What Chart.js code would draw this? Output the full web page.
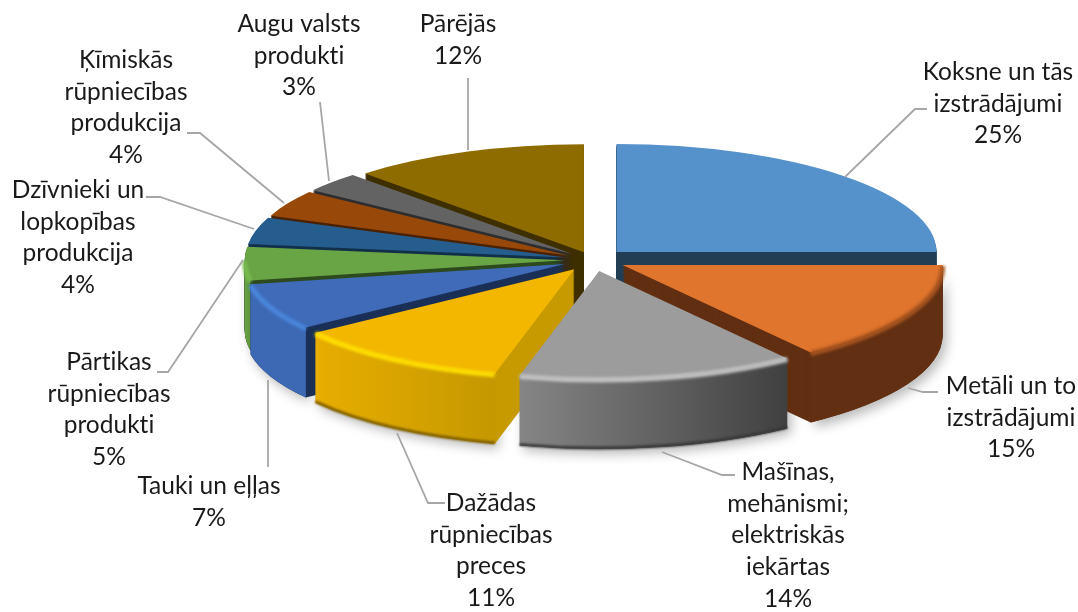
<!DOCTYPE html>
<html><head><meta charset="utf-8">
<style>html,body{margin:0;padding:0;background:#fff}#w{width:1078px;height:612px}</style>
<script src="https://cdn.jsdelivr.net/npm/chart.js@4"></script></head>
<body><div id="w"><canvas id="c" width="1078" height="612"></canvas></div>
<script>
const categories=[["Koksne un tās","izstrādājumi"],["Metāli un to","izstrādājumi"],["Mašīnas,","mehānismi;","elektriskās","iekārtas"],["Dažādas","rūpniecības","preces"],["Tauki un eļļas"],["Pārtikas","rūpniecības","produkti"],["Dzīvnieki un","lopkopības","produkcija"],["Ķīmiskās","rūpniecības","produkcija"],["Augu valsts","produkti"],["Pārējās"]];
const shares=[25,15,14,11,7,5,4,4,3,12];
const topColors=["#5592cb","#e0752d","#9c9c9c","#f3b700","#3f6bb9","#69a445","#255e8e","#984808","#636363","#8f6c00"];
const faceColors=["#223e55","#622f12","#555555","#c79a00","#1b3057","#2e4a1f","#12304a","#4a2204","#2e2e30","#3f3000"];
const wallFrom=["#223e55","#622f12","#858585","#e8ae00","#3d69b4","#69a445","#12304a","#4a2204","#2e2e30","#3f3000"];
const wallTo=["#223e55","#622f12","#404040","#c59800","#3d69b4","#5d943d","#12304a","#4a2204","#2e2e30","#3f3000"];
const rimTop=["#5592cb","#a9551f","#c6c6c6","#ffe000","#4a88de","#78bd50","#255e8e","#984808","#636363","#8f6c00"];
const rimBottom=[null,null,"#383838","#7a5c00",null,null,null,null,null,null];
const explode=[27,27,27,27,25,23,23,23,23,20];
const labelCentres=[[998,72],[1011,386],[788,472],[491,503],[209,486],[109,362],[78,190],[126,60],[299,24],[458,24]];
const leaders=[[[927,109],[915,109],[845,177]],[[938,392],[923,392],[908,388]],[[735,475],[722,475],[662,452]],[[445,503],[428,503],[397,433]],[[268,467],[268,380]],[[157,372],[168,372],[243,260]],[[146,197],[160,197],[254,229]],[[187,133],[200,133],[284,203]],[[320,102],[329,181]],[[468,78],[468,150]]];
const CX=593,CY=260,RX=320,RY=108,DEPTH=70,LINE=31.7,FONT='24.5px Lato';

const tilted={id:'tilted',
 beforeDatasetsDraw(chart){
  const ctx=chart.ctx,arcs=chart.getDatasetMeta(0).data;
  const R=arcs[0].outerRadius,SX=RX/R,SY=RY/R;
  const place=(arc,i,d)=>{const mid=(arc.startAngle+arc.endAngle)/2,o=explode[i];
    ctx.translate(CX,CY+d);ctx.scale(SX,SY);ctx.translate(Math.cos(mid)*o-arc.x,Math.sin(mid)*o-arc.y);};
  const wallPath=(i)=>{const arc=arcs[i],a0=Math.max(arc.startAngle,0),a1=Math.min(arc.endAngle,Math.PI);
    if(a1<=a0)return false;
    ctx.save();place(arc,i,0);
    ctx.beginPath();ctx.arc(arc.x,arc.y,R,a0,a1);ctx.arc(arc.x,arc.y+DEPTH/SY,R,a1,a0,true);ctx.closePath();
    ctx.restore();return true;};
  const rim=(i,d,w,color,blur)=>{const arc=arcs[i],a0=Math.max(arc.startAngle,0),a1=Math.min(arc.endAngle,Math.PI);
    if(a1<=a0||!color)return;
    ctx.save();ctx.save();place(arc,i,d);
    ctx.beginPath();ctx.arc(arc.x,arc.y,R,a0,a1);ctx.restore();
    ctx.filter='blur('+blur+'px)';ctx.strokeStyle=color;ctx.lineWidth=w;ctx.stroke();ctx.restore();};
  const paintArc=(i,color,d)=>{const arc=arcs[i],keep=arc.options;arc.options=Object.assign(Object.create(keep),{backgroundColor:color,borderWidth:0});
    ctx.save();place(arc,i,d);arc.draw(ctx);ctx.restore();arc.options=keep;};
  arcs.forEach((arc,i)=>{ctx.save();ctx.shadowColor='rgba(0,0,0,.28)';ctx.shadowBlur=12;ctx.shadowOffsetY=5;ctx.shadowOffsetX=4;
    if(wallPath(i)){ctx.fillStyle='#ccc';ctx.fill();}
    ctx.restore();});
  const order=arcs.map((a,i)=>i).sort((p,q)=>Math.sin((arcs[p].startAngle+arcs[p].endAngle)/2)-Math.sin((arcs[q].startAngle+arcs[q].endAngle)/2));
  order.forEach(i=>{const arc=arcs[i];
    for(let d=DEPTH;d>0;d--)paintArc(i,faceColors[i],d);
    if(wallPath(i)){
      const mid=(arc.startAngle+arc.endAngle)/2,ox=Math.cos(mid)*explode[i]*SX;
      const x0=CX+ox+Math.cos(Math.min(arc.endAngle,Math.PI))*RX,x1=CX+ox+Math.cos(Math.max(arc.startAngle,0))*RX;
      const g=ctx.createLinearGradient(x0,0,x1,0);g.addColorStop(0,wallFrom[i]);g.addColorStop(1,wallTo[i]);
      ctx.fillStyle=g;ctx.fill();
      rim(i,DEPTH-1,3,rimBottom[i],1);
    }
    paintArc(i,topColors[i],0);
    rim(i,1,5,rimTop[i],1.5);
  });
  ctx.save();ctx.strokeStyle='#a6a6a6';ctx.lineWidth=1.8;
  leaders.forEach(pts=>{ctx.beginPath();pts.forEach((p,k)=>k?ctx.lineTo(p[0],p[1]):ctx.moveTo(p[0],p[1]));ctx.stroke();});
  ctx.fillStyle='#1a1a1a';ctx.font=FONT;ctx.letterSpacing='0.01px';ctx.textAlign='center';ctx.textBaseline='middle';
  categories.forEach((lines,i)=>{const all=[...lines,shares[i]+'%'];all.forEach((t,k)=>ctx.fillText(t,labelCentres[i][0],labelCentres[i][1]+k*LINE));});
  ctx.restore();
  return false;
 }};

new Chart(document.getElementById('c'),{type:'pie',
 data:{labels:categories.map(l=>l.join(' ')),datasets:[{data:shares,backgroundColor:topColors,borderWidth:0}]},
 options:{responsive:false,animation:false,radius:260,layout:{padding:0},
  plugins:{legend:{display:false},tooltip:{enabled:false}}},
 plugins:[tilted]});
</script></body></html>
